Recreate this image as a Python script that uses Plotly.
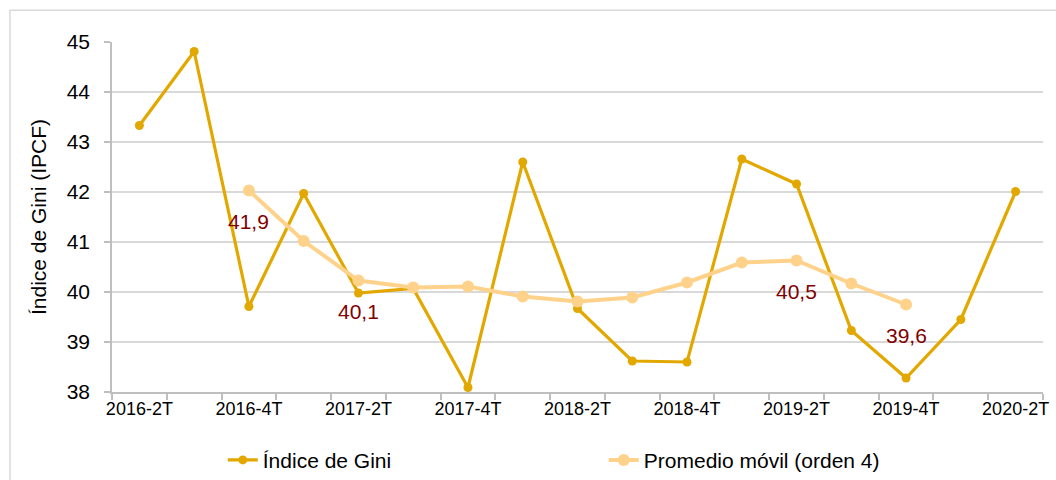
import plotly.graph_objects as go

# ---- data ----
quarters = ["2016-2T", "2016-3T", "2016-4T", "2017-1T", "2017-2T", "2017-3T",
            "2017-4T", "2018-1T", "2018-2T", "2018-3T", "2018-4T", "2019-1T",
            "2019-2T", "2019-3T", "2019-4T", "2020-1T", "2020-2T"]
tick_labels = ["2016-2T", "", "2016-4T", "", "2017-2T", "", "2017-4T", "",
               "2018-2T", "", "2018-4T", "", "2019-2T", "", "2019-4T", "", "2020-2T"]
gini = [43.33, 44.81, 39.71, 41.97, 39.98, 40.07, 38.09, 42.60, 39.67,
        38.62, 38.60, 42.66, 42.16, 39.23, 38.28, 39.45, 42.01]
moving_avg = [None, None, 42.03, 41.02, 40.23, 40.09, 40.11, 39.91, 39.81,
              39.89, 40.19, 40.59, 40.63, 40.17, 39.75, None, None]
ma_labels = ["", "", "41,9", "", "40,1", "", "", "", "",
             "", "", "", "40,5", "", "39,6", "", ""]

GOLD = "#E2A800"
LIGHT = "#FFD28C"
LABEL = "#800000"
FONT = "Liberation Sans, Arial, sans-serif"

fig = go.Figure()
fig.add_trace(go.Scatter(
    x=quarters, y=gini, name="Índice de Gini", mode="lines+markers",
    line=dict(color=GOLD, width=3.2), marker=dict(color=GOLD, size=9)))
fig.add_trace(go.Scatter(
    x=quarters, y=moving_avg, name="Promedio móvil (orden 4)", mode="lines+markers",
    line=dict(color=LIGHT, width=4), marker=dict(color=LIGHT, size=12),
    connectgaps=False))

for q, v, t in zip(quarters, moving_avg, ma_labels):
    if t:
        fig.add_annotation(x=q, y=v, text=t, showarrow=False, yshift=-31,
                           font=dict(size=21, color=LABEL, family=FONT))

# outer chart border (partially visible)
fig.add_shape(type="rect", xref="paper", yref="paper",
              x0=-0.1096, y0=-0.5, x1=1.2, y1=1.0906,
              line=dict(color="#D9D9D9", width=1.5), fillcolor="rgba(0,0,0,0)",
              layer="below")

fig.update_layout(
    width=1056, height=480,
    margin=dict(l=112, r=13, t=42, b=88, autoexpand=False),
    paper_bgcolor="white", plot_bgcolor="white",
    font=dict(family=FONT, color="#000000", size=20),
    showlegend=True,
    legend=dict(orientation="h", x=0.119, xanchor="left", y=-0.195, yanchor="middle",
                font=dict(size=21, family=FONT), entrywidth=336,
                bgcolor="rgba(0,0,0,0)"),
    xaxis=dict(type="category", categoryorder="array", categoryarray=quarters,
               tickmode="array", tickvals=quarters, ticktext=tick_labels,
               tickson="boundaries", ticks="outside", ticklen=6, tickangle=0,
               tickcolor="#BFBFBF", tickwidth=1.5, automargin=False,
               showline=True, linecolor="#BFBFBF", linewidth=1.5,
               showgrid=False, tickfont=dict(size=18, family=FONT),
               range=[-0.5, 16.5]),
    yaxis=dict(range=[38, 45], tickmode="linear", tick0=38, dtick=1,
               ticks="outside", ticklen=6, tickcolor="#BFBFBF", tickwidth=1.5,
               showline=True, linecolor="#BFBFBF", linewidth=1.5, automargin=False,
               showgrid=True, gridcolor="#D9D9D9", gridwidth=1.5,
               zeroline=False, tickfont=dict(size=21, family=FONT),
               ticklabelstandoff=10,
               title=dict(text="Índice de Gini (IPCF)", font=dict(size=21, family=FONT),
                          standoff=14)),
)

fig.write_html("out.html", config={"displayModeBar": False},
               post_script="document.body.style.margin='0';document.body.style.overflow='hidden';")
